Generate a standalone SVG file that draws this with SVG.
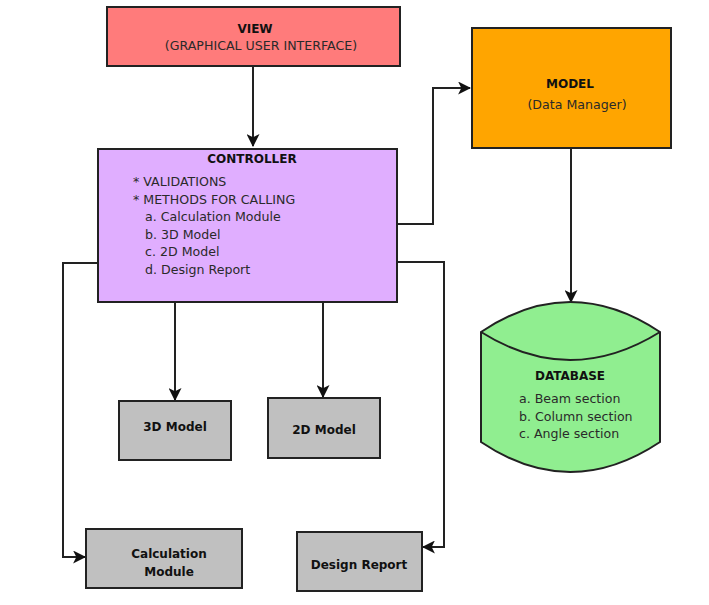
<svg xmlns="http://www.w3.org/2000/svg" width="709" height="605" viewBox="0 0 709 605">
<style>
.box{stroke:#222;stroke-width:2}
text{font-family:"DejaVu Sans","Liberation Sans",sans-serif;font-size:12.6px;fill:#2a2a2a}
.b{font-weight:bold;fill:#111;font-size:12px}
.c{text-anchor:middle}
.ln{fill:none;stroke:#222;stroke-width:2}
</style>
<defs>
<marker id="ah" viewBox="0 0 12 12" refX="11" refY="6" markerWidth="13" markerHeight="13" markerUnits="userSpaceOnUse" orient="auto">
<path d="M0,0 L12,6 L0,12 L3,6 Z" fill="#111"/>
</marker>
</defs>
<rect width="709" height="605" fill="#fff"/>
<g id="connectors">
<path class="ln" d="M253,67 V146" marker-end="url(#ah)"/>
<path class="ln" d="M397,224 H433 V88 H470" marker-end="url(#ah)"/>
<path class="ln" d="M571,148 V302" marker-end="url(#ah)"/>
<path class="ln" d="M98,263 H63 V557 H85" marker-end="url(#ah)"/>
<path class="ln" d="M397,262 H444 V547 H423" marker-end="url(#ah)"/>
<path class="ln" d="M175,302 V400" marker-end="url(#ah)"/>
<path class="ln" d="M323,302 V397" marker-end="url(#ah)"/>
</g>
<g id="view">
<rect class="box" x="107" y="7" width="293" height="59" fill="#FF7B7B"/>
<text class="b c" x="255" y="33">VIEW</text>
<text class="c" x="261" y="50">(GRAPHICAL USER INTERFACE)</text>
</g>
<g id="controller">
<rect class="box" x="98" y="149" width="299" height="153" fill="#E0AEFF"/>
<text class="b c" x="252" y="163">CONTROLLER</text>
<text x="133" y="186">* VALIDATIONS</text>
<text x="133" y="204">* METHODS FOR CALLING</text>
<text x="145" y="221">a. Calculation Module</text>
<text x="145" y="239">b. 3D Model</text>
<text x="145" y="256">c. 2D Model</text>
<text x="145" y="274">d. Design Report</text>
</g>
<g id="model">
<rect class="box" x="472" y="28" width="199" height="120" fill="#FFA500"/>
<text class="b c" x="570" y="88">MODEL</text>
<text class="c" x="577" y="109">(Data Manager)</text>
</g>
<g id="database">
<path class="box" d="M481,332 Q570,272 660,332 V442 Q570,502 481,442 Z" fill="#90EE90"/>
<path class="ln" d="M481,332 Q570,388 660,332"/>
<text class="b c" x="570" y="380">DATABASE</text>
<text x="519" y="403">a. Beam section</text>
<text x="519" y="421">b. Column section</text>
<text x="519" y="438">c. Angle section</text>
</g>
<g id="model3d">
<rect class="box" x="119" y="401" width="112" height="59" fill="#C0C0C0"/>
<text class="b c" x="175" y="431">3D Model</text>
</g>
<g id="model2d">
<rect class="box" x="268" y="398" width="112" height="60" fill="#C0C0C0"/>
<text class="b c" x="324" y="434">2D Model</text>
</g>
<g id="calc">
<rect class="box" x="86" y="529" width="156" height="59" fill="#C0C0C0"/>
<text class="b c" x="169" y="558">Calculation</text>
<text class="b c" x="169" y="576">Module</text>
</g>
<g id="report">
<rect class="box" x="297" y="532" width="125" height="59" fill="#C0C0C0"/>
<text class="b c" x="359" y="569">Design Report</text>
</g>
</svg>
